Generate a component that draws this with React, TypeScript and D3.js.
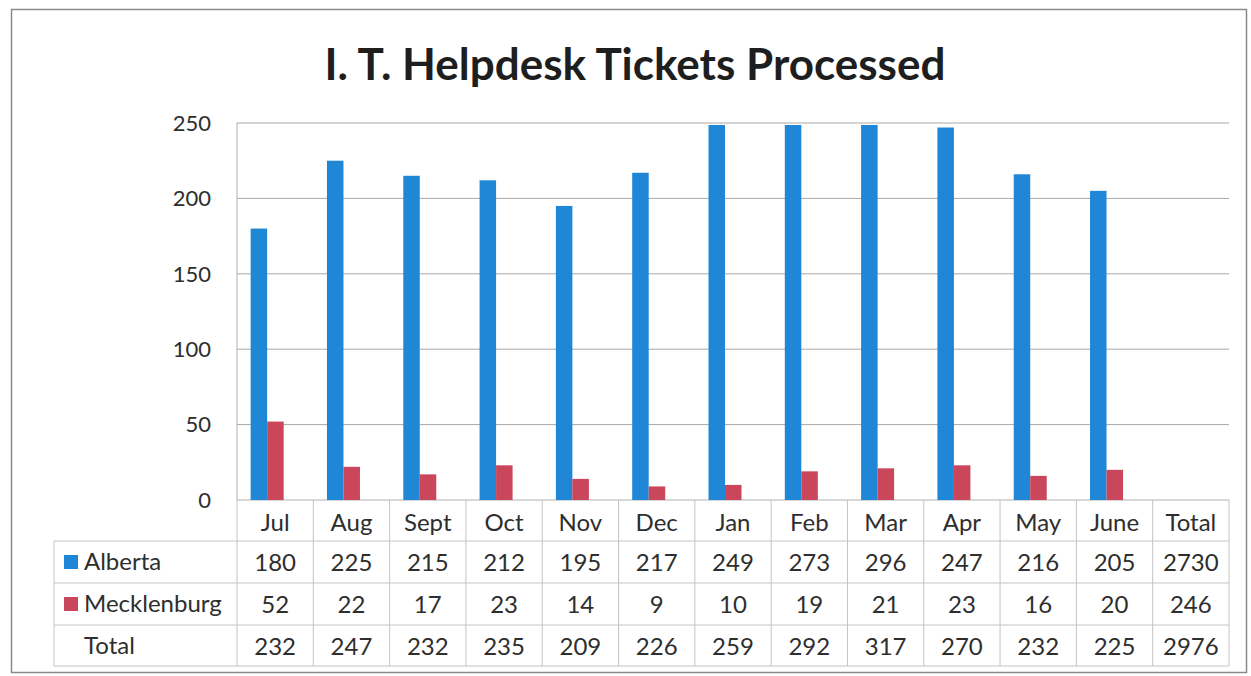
import React, { useEffect } from "react";
import * as d3 from "d3";

const title = "I. T. Helpdesk Tickets Processed";
const months = ["Jul", "Aug", "Sept", "Oct", "Nov", "Dec", "Jan", "Feb", "Mar", "Apr", "May", "June"];
const columns = [...months, "Total"];
const seriesNames = ["Alberta", "Mecklenburg"];
const alberta = [180, 225, 215, 212, 195, 217, 249, 273, 296, 247, 216, 205];
const mecklenburg = [52, 22, 17, 23, 14, 9, 10, 19, 21, 23, 16, 20];
const totalRow = [232, 247, 232, 235, 209, 226, 259, 292, 317, 270, 232, 225];
const grandTotals = [2730, 246, 2976];
const yTicks = [0, 50, 100, 150, 200, 250];
const colors = ["#1f87d6", "#c9465b"];

const W = 1251;
const H = 676;
const plotL = 237;
const plotR = 1229;
const plotT = 123;
const plotB = 500;
const rowYs = [500, 541, 583, 625, 666];
const tableL = 54;
const FONT = "Lato, 'Open Sans', sans-serif";

export default function App() {
  useEffect(() => {
    document.body.style.margin = "0";
  }, []);

  const x = d3.scaleBand<string>().domain(columns).range([plotL, plotR]);
  const y = d3.scaleLinear().domain([0, 250]).range([plotB, plotT]);
  const barW = 16.5;
  const shift = -8;

  const rows = [
    { name: seriesNames[0], values: [...alberta, grandTotals[0]], color: colors[0] },
    { name: seriesNames[1], values: [...mecklenburg, grandTotals[1]], color: colors[1] },
    { name: "Total", values: [...totalRow, grandTotals[2]], color: null as string | null },
  ];

  const lineColor = "#c4c4c4";
  const textColor = "#2e2e2e";
  const tableFont = 24;

  return (
    <svg width={W} height={H} style={{ display: "block", background: "#fff" }} fontFamily={FONT}>
      <defs>
        <clipPath id="plotClip">
          <rect x={plotL} y={plotT + 2} width={plotR - plotL} height={plotB - plotT - 2} />
        </clipPath>
      </defs>
      {/* outer border */}
      <rect x={11.5} y={9.5} width={1235} height={663} fill="none" stroke="#8a8a8a" strokeWidth={1.5} />

      {/* title */}
      <text x={635} y={80} textAnchor="middle" fontSize={44} fontWeight="bold" fill="#1e1e1e">
        {title}
      </text>

      {/* gridlines */}
      {yTicks.map((t) => (
        <line key={"g" + t} x1={plotL} x2={plotR} y1={y(t)} y2={y(t)} stroke={t === 0 ? "#b0b0b0" : "#a8a8a8"} strokeWidth={1} />
      ))}
      <line x1={plotL} x2={plotL} y1={plotT} y2={plotB} stroke="#b0b0b0" />

      {/* y tick labels */}
      {yTicks.map((t) => (
        <text key={"t" + t} x={211} y={y(t)} dy="0.35em" textAnchor="end" fontSize={22} fill={textColor}>
          {t}
        </text>
      ))}

      {/* bars */}
      <g clipPath="url(#plotClip)">
        {months.map((m, i) => {
          const c = (x(m) as number) + x.bandwidth() / 2 + shift;
          return (
            <g key={"b" + m}>
              <rect x={c - barW} y={y(alberta[i])} width={barW} height={y(0) - y(alberta[i])} fill={colors[0]} />
              <rect x={c} y={y(mecklenburg[i])} width={barW} height={y(0) - y(mecklenburg[i])} fill={colors[1]} />
            </g>
          );
        })}
      </g>

      {/* data table */}
      {rowYs.slice(1).map((ry) => (
        <line key={"h" + ry} x1={tableL} x2={plotR} y1={ry} y2={ry} stroke={lineColor} />
      ))}
      {columns.map((c) => (
        <line key={"v" + c} x1={x(c) as number} x2={x(c) as number} y1={plotB} y2={rowYs[4]} stroke={lineColor} />
      ))}
      <line x1={plotR} x2={plotR} y1={plotB} y2={rowYs[4]} stroke={lineColor} />
      <line x1={tableL} x2={tableL} y1={rowYs[1]} y2={rowYs[4]} stroke={lineColor} />

      {/* header */}
      {columns.map((c) => (
        <text
          key={"hd" + c}
          x={(x(c) as number) + x.bandwidth() / 2}
          y={(rowYs[0] + rowYs[1]) / 2 + 2}
          dy="0.35em"
          textAnchor="middle"
          fontSize={tableFont}
          fill={textColor}
        >
          {c}
        </text>
      ))}

      {/* rows */}
      {rows.map((r, ri) => {
        const cy = (rowYs[ri + 1] + rowYs[ri + 2]) / 2;
        return (
          <g key={"r" + r.name}>
            {r.color && <rect x={64} y={cy - 7} width={14} height={14} fill={r.color} />}
            <text x={84} y={cy} dy="0.35em" fontSize={tableFont} fill={textColor}>
              {r.name}
            </text>
            {r.values.map((v, ci) => (
              <text
                key={"c" + ci}
                x={(x(columns[ci]) as number) + x.bandwidth() / 2}
                y={cy + 1}
                dy="0.35em"
                textAnchor="middle"
                fontSize={tableFont}
                fill={textColor}
              >
                {v}
              </text>
            ))}
          </g>
        );
      })}
    </svg>
  );
}
